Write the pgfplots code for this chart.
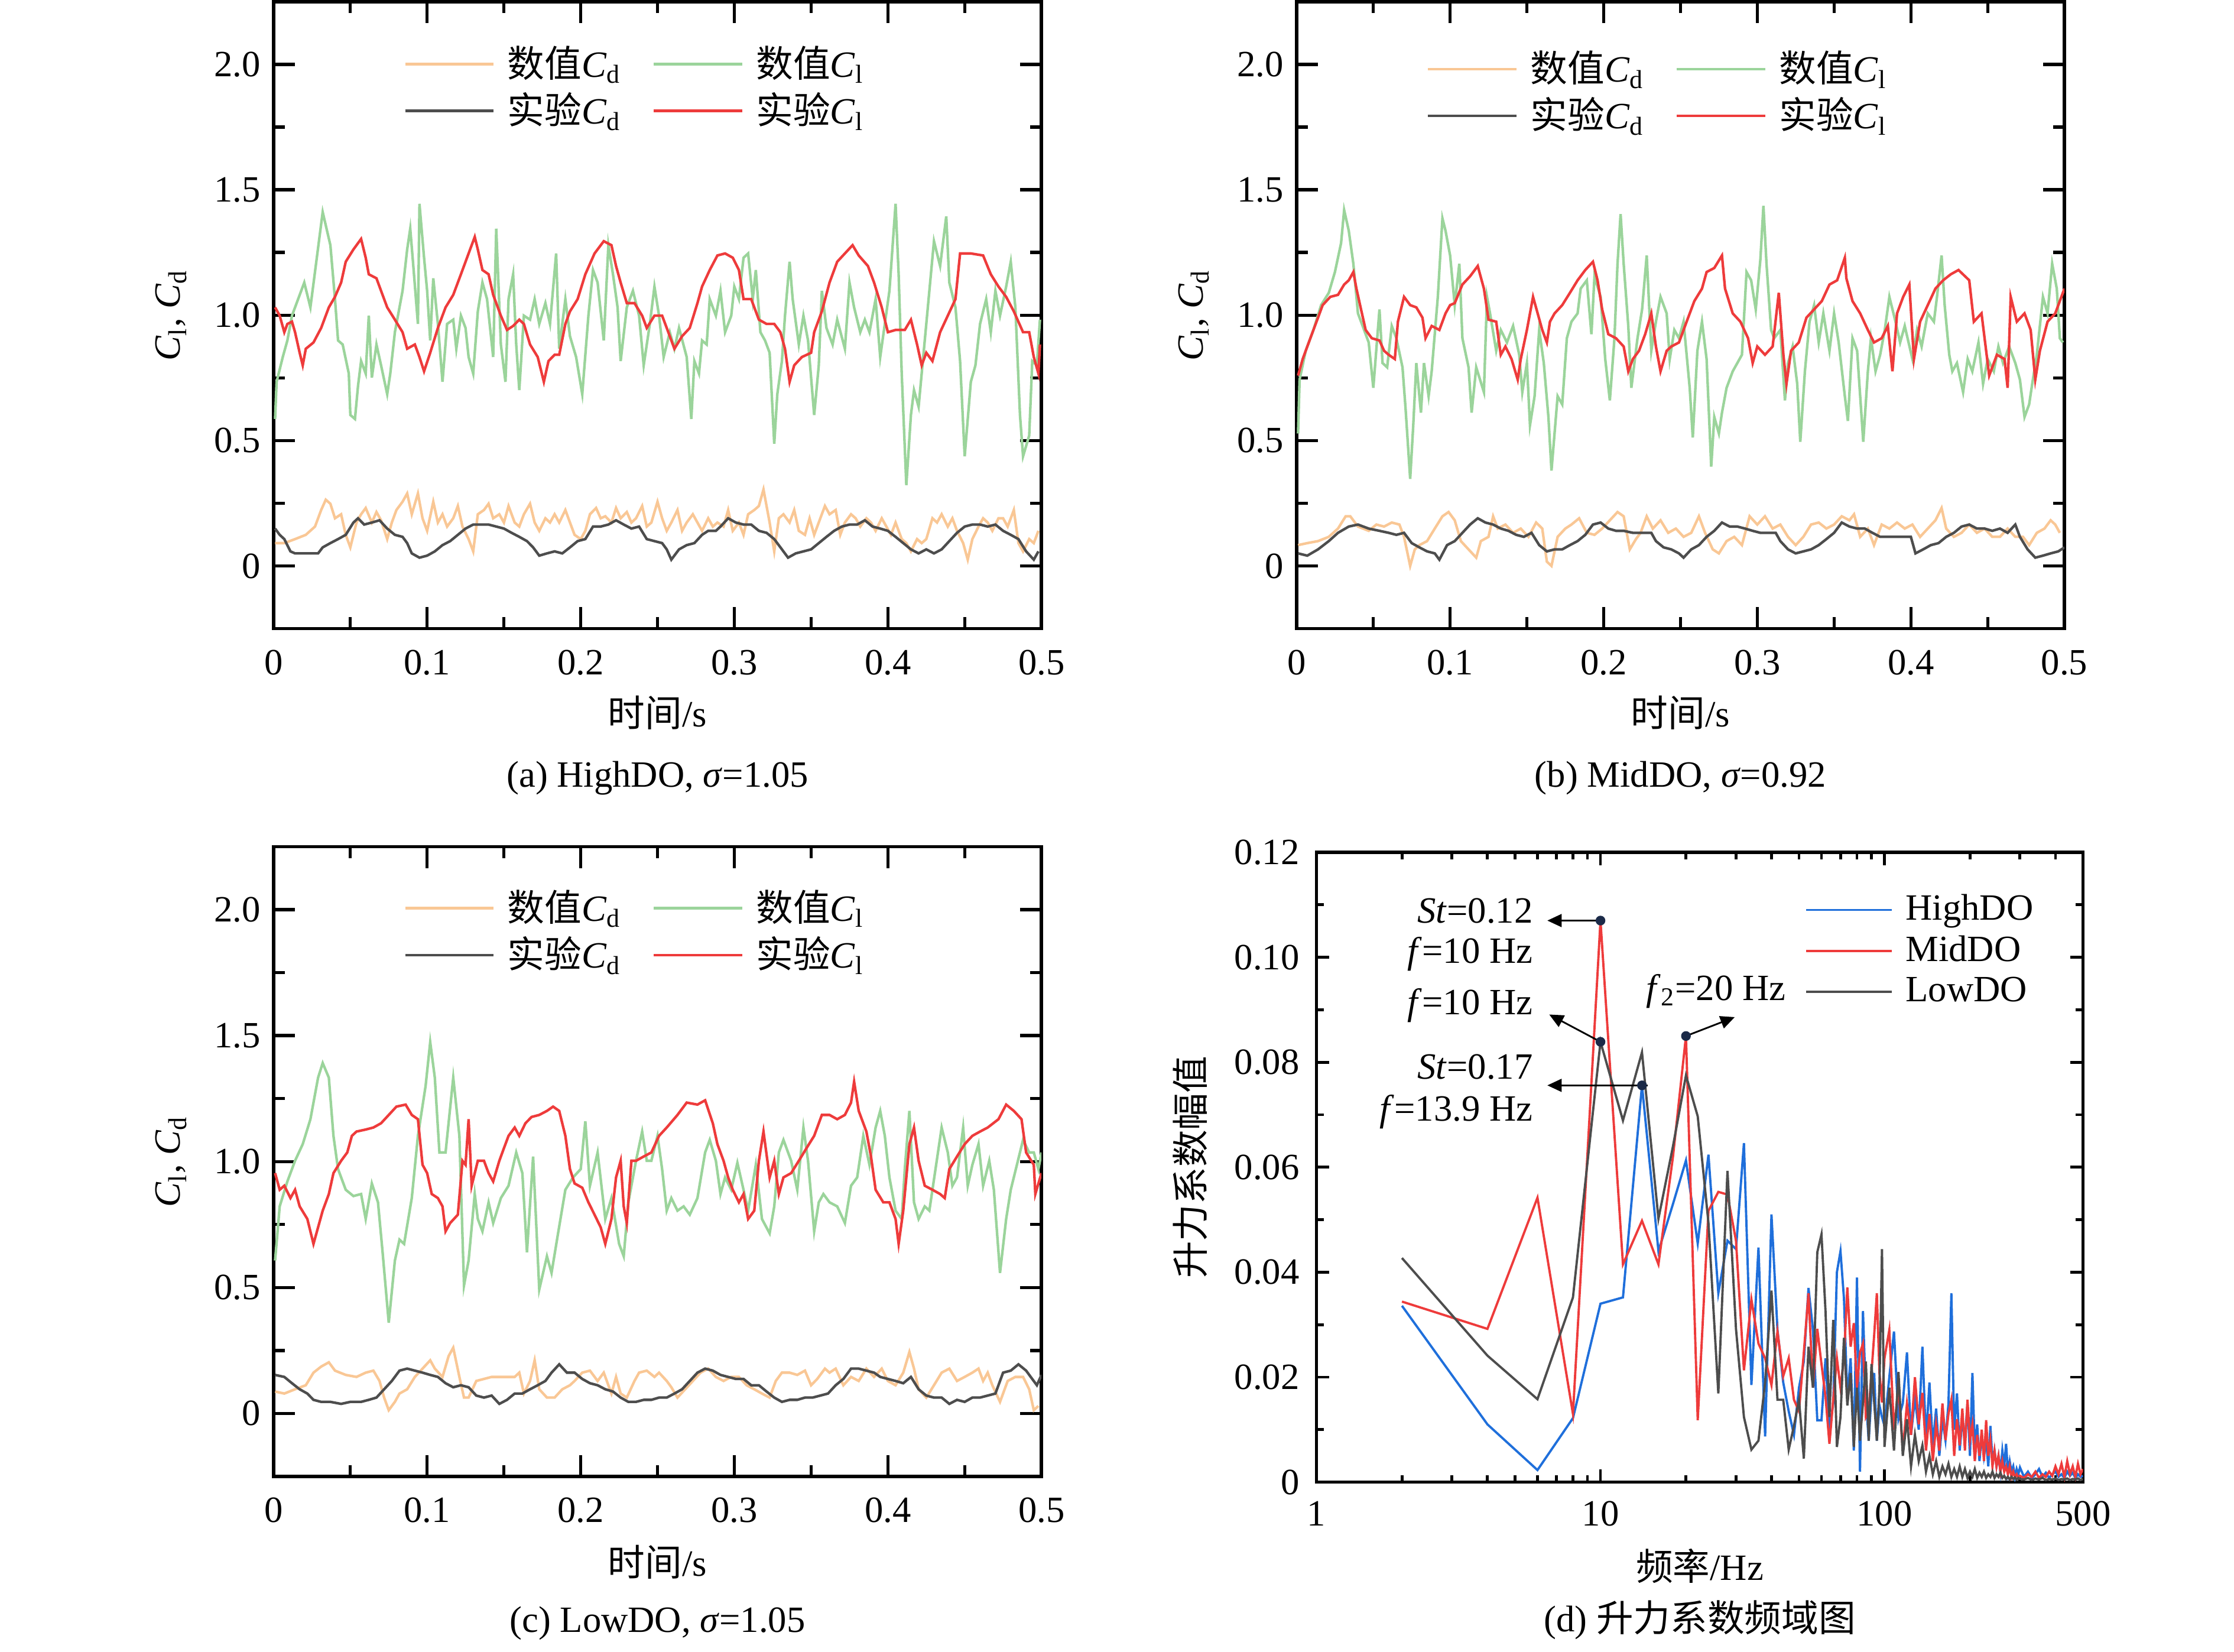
\documentclass[border=0pt]{standalone}
\usepackage{fontspec}
\setmainfont{Liberation Serif}
\newfontfamily\cjk{Noto Sans CJK SC}
\usepackage{pgfplots}
\pgfplotsset{compat=1.18}
\usetikzlibrary{arrows.meta}
\definecolor{cOr}{HTML}{F9C795}
\definecolor{cGr}{HTML}{9BD49B}
\definecolor{cGy}{HTML}{4D4D4D}
\definecolor{cRd}{HTML}{EE3B3B}
\definecolor{cBl}{HTML}{1F6FDB}
\definecolor{cDot}{HTML}{1B2A48}
\pgfplotsset{
  tsax/.style={
    scale only axis, width=269.5pt, height=220pt,
    xmin=0, xmax=0.5, ymin=-0.25, ymax=2.25,
    xtick={0,0.1,0.2,0.3,0.4,0.5}, xticklabels={0,0.1,0.2,0.3,0.4,0.5},
    minor xtick={0.05,0.15,0.25,0.35,0.45},
    ytick={0,0.5,1,1.5,2}, yticklabels={0,0.5,1.0,1.5,2.0},
    minor ytick={0.25,0.75,1.25,1.75},
    major tick length=7.5pt, minor tick length=4pt,
    tick style={line width=1.1pt, black},
    axis line style={line width=1.2pt},
    /pgf/number format/assume math mode=true,
    xticklabel style={yshift=-3pt},
    xlabel={{\cjk 时间}/s},
    ylabel={\textit{C}\textsubscript{l}, \textit{C}\textsubscript{d}},
    legend columns=2,
    legend style={draw=none, fill=none, nodes={inner ysep=1pt}, row sep=1.5pt,
      /tikz/every even column/.append style={column sep=9pt}},
    legend cell align=left,
    legend image code/.code={\draw[##1] (0pt,0pt) -- (31pt,0pt); \path (33.5pt,0pt);},
  },
  cd1/.style={cOr, line width=0.9pt},
  cl1/.style={cGr, line width=0.9pt},
  cd2/.style={cGy, line width=0.9pt},
  cl2/.style={cRd, line width=0.9pt},
}
\begin{document}
\fontsize{13}{15.6}\selectfont
\begin{tikzpicture}
\useasboundingbox (0pt,0pt) rectangle (784pt,579.6pt);
%% ---------------- (a)
\begin{axis}[tsax, at={(96pt,359pt)}, anchor=south west,
  title={(a) HighDO, \textit{σ}=1.05},
  title style={at={(axis description cs:0.5,-0.234)}, anchor=center, yshift=-7pt},
  xlabel style={at={(axis description cs:0.5,-0.134)}, anchor=center},
  ylabel style={at={(axis description cs:-0.1336,0.5)}, anchor=center},
  legend style={at={(0.473,0.863)}, anchor=center}]
\addplot[cd1] coordinates {(0.001,0.091)(0.007,0.091)(0.014,0.107)(0.021,0.124)(0.027,0.157)(0.031,0.223)(0.034,0.264)(0.037,0.248)(0.040,0.190)(0.044,0.206)(0.047,0.124)(0.050,0.074)(0.054,0.173)(0.057,0.206)(0.060,0.231)(0.064,0.173)(0.067,0.215)(0.070,0.182)(0.074,0.107)(0.077,0.173)(0.080,0.223)(0.084,0.256)(0.087,0.289)(0.090,0.206)(0.094,0.289)(0.097,0.190)(0.100,0.140)(0.104,0.256)(0.107,0.173)(0.110,0.206)(0.113,0.157)(0.117,0.190)(0.120,0.239)(0.123,0.157)(0.127,0.107)(0.130,0.058)(0.133,0.206)(0.137,0.223)(0.140,0.248)(0.143,0.190)(0.147,0.206)(0.150,0.173)(0.153,0.239)(0.157,0.173)(0.160,0.157)(0.163,0.206)(0.167,0.248)(0.170,0.173)(0.173,0.140)(0.177,0.190)(0.180,0.173)(0.183,0.206)(0.186,0.173)(0.190,0.223)(0.193,0.173)(0.196,0.124)(0.200,0.107)(0.203,0.140)(0.206,0.206)(0.210,0.231)(0.213,0.190)(0.216,0.198)(0.220,0.173)(0.223,0.231)(0.226,0.190)(0.230,0.215)(0.233,0.173)(0.236,0.190)(0.240,0.239)(0.243,0.157)(0.246,0.173)(0.250,0.256)(0.253,0.190)(0.256,0.140)(0.259,0.173)(0.263,0.223)(0.266,0.140)(0.269,0.173)(0.273,0.206)(0.276,0.173)(0.279,0.140)(0.283,0.190)(0.286,0.157)(0.289,0.173)(0.293,0.157)(0.296,0.223)(0.299,0.140)(0.303,0.173)(0.306,0.124)(0.309,0.206)(0.313,0.223)(0.316,0.239)(0.319,0.305)(0.323,0.173)(0.326,0.058)(0.329,0.190)(0.332,0.206)(0.336,0.173)(0.339,0.223)(0.342,0.140)(0.346,0.124)(0.349,0.190)(0.352,0.124)(0.356,0.190)(0.359,0.239)(0.362,0.206)(0.366,0.223)(0.369,0.124)(0.372,0.173)(0.376,0.206)(0.379,0.190)(0.382,0.157)(0.386,0.190)(0.389,0.173)(0.392,0.140)(0.396,0.190)(0.399,0.157)(0.402,0.124)(0.405,0.173)(0.409,0.107)(0.412,0.091)(0.415,0.058)(0.419,0.107)(0.422,0.091)(0.425,0.107)(0.429,0.190)(0.432,0.173)(0.435,0.206)(0.439,0.157)(0.442,0.190)(0.445,0.140)(0.449,0.091)(0.452,0.025)(0.455,0.107)(0.459,0.157)(0.462,0.190)(0.465,0.173)(0.468,0.140)(0.472,0.190)(0.475,0.190)(0.478,0.157)(0.482,0.223)(0.485,0.091)(0.488,0.058)(0.492,0.107)(0.495,0.091)(0.498,0.140)};
\addlegendentry{{\cjk 数值}\textit{C}\textsubscript{d}}
\addplot[cl1] coordinates {(0.001,0.586)(0.002,0.734)(0.006,0.833)(0.009,0.899)(0.012,0.998)(0.016,1.064)(0.020,1.130)(0.024,1.031)(0.032,1.411)(0.037,1.279)(0.040,1.064)(0.042,0.899)(0.045,0.883)(0.049,0.767)(0.050,0.602)(0.053,0.586)(0.055,0.718)(0.057,0.817)(0.060,0.767)(0.062,0.998)(0.064,0.751)(0.067,0.883)(0.070,0.800)(0.074,0.685)(0.076,0.767)(0.079,0.932)(0.081,0.998)(0.084,1.097)(0.087,1.262)(0.089,1.345)(0.091,1.196)(0.094,0.965)(0.095,1.444)(0.098,1.229)(0.100,1.097)(0.102,0.899)(0.104,1.147)(0.107,0.965)(0.110,0.734)(0.113,0.965)(0.117,0.982)(0.119,0.866)(0.122,0.998)(0.125,0.949)(0.127,0.833)(0.130,0.767)(0.133,1.015)(0.136,1.130)(0.139,1.064)(0.143,0.833)(0.145,1.345)(0.148,0.883)(0.151,0.734)(0.153,1.064)(0.156,1.163)(0.158,0.883)(0.160,0.701)(0.163,0.998)(0.167,0.982)(0.170,1.064)(0.173,0.965)(0.177,1.048)(0.180,0.965)(0.184,1.246)(0.186,0.866)(0.190,1.064)(0.193,0.916)(0.197,0.833)(0.201,0.685)(0.205,0.998)(0.208,1.180)(0.211,1.130)(0.215,0.899)(0.218,1.279)(0.221,1.163)(0.224,1.031)(0.226,0.817)(0.230,1.031)(0.234,1.097)(0.238,0.998)(0.241,0.800)(0.245,0.965)(0.248,1.114)(0.251,0.998)(0.254,0.833)(0.258,0.932)(0.261,0.866)(0.264,0.949)(0.269,0.833)(0.272,0.586)(0.274,0.817)(0.277,0.767)(0.279,0.899)(0.282,0.883)(0.284,1.064)(0.288,0.998)(0.291,1.097)(0.294,0.932)(0.298,0.998)(0.300,1.114)(0.303,1.064)(0.306,1.229)(0.309,1.246)(0.312,1.064)(0.314,1.180)(0.317,0.932)(0.320,0.899)(0.323,0.850)(0.326,0.487)(0.328,0.685)(0.331,0.817)(0.333,0.998)(0.336,1.213)(0.338,1.064)(0.342,0.883)(0.345,0.998)(0.348,0.899)(0.352,0.602)(0.355,0.800)(0.357,1.097)(0.360,0.949)(0.364,0.883)(0.367,0.982)(0.372,0.866)(0.375,1.130)(0.378,1.031)(0.382,0.932)(0.385,0.982)(0.388,0.932)(0.392,1.064)(0.395,0.833)(0.398,0.965)(0.401,1.097)(0.405,1.444)(0.407,1.163)(0.409,0.767)(0.412,0.322)(0.415,0.602)(0.417,0.701)(0.420,0.635)(0.424,0.899)(0.427,1.097)(0.430,1.295)(0.434,1.196)(0.438,1.394)(0.440,1.130)(0.444,1.031)(0.447,0.817)(0.450,0.437)(0.454,0.734)(0.457,0.800)(0.460,0.965)(0.464,1.064)(0.467,0.932)(0.470,1.097)(0.473,0.998)(0.477,1.114)(0.480,1.213)(0.483,1.031)(0.486,0.602)(0.488,0.437)(0.492,0.520)(0.494,0.817)(0.497,0.800)(0.499,0.982)};
\addlegendentry{{\cjk 数值}\textit{C}\textsubscript{l}}
\addplot[cd2] coordinates {(0.001,0.149)(0.004,0.124)(0.007,0.107)(0.011,0.058)(0.014,0.050)(0.019,0.050)(0.024,0.050)(0.029,0.050)(0.032,0.074)(0.037,0.091)(0.042,0.107)(0.047,0.124)(0.052,0.173)(0.055,0.190)(0.059,0.165)(0.064,0.173)(0.069,0.182)(0.074,0.149)(0.079,0.124)(0.084,0.116)(0.087,0.091)(0.090,0.050)(0.095,0.033)(0.100,0.041)(0.105,0.058)(0.110,0.083)(0.115,0.099)(0.120,0.124)(0.125,0.149)(0.130,0.165)(0.135,0.165)(0.140,0.165)(0.145,0.157)(0.150,0.149)(0.155,0.132)(0.160,0.116)(0.165,0.099)(0.169,0.074)(0.173,0.041)(0.178,0.050)(0.183,0.058)(0.188,0.050)(0.193,0.074)(0.198,0.099)(0.203,0.107)(0.208,0.157)(0.213,0.157)(0.218,0.165)(0.223,0.182)(0.228,0.165)(0.233,0.149)(0.238,0.157)(0.243,0.107)(0.248,0.099)(0.253,0.091)(0.256,0.066)(0.259,0.025)(0.264,0.066)(0.269,0.083)(0.274,0.091)(0.279,0.124)(0.283,0.140)(0.288,0.140)(0.291,0.157)(0.296,0.190)(0.301,0.173)(0.306,0.165)(0.311,0.165)(0.316,0.140)(0.321,0.132)(0.326,0.107)(0.331,0.066)(0.335,0.033)(0.340,0.050)(0.345,0.058)(0.350,0.066)(0.355,0.091)(0.360,0.116)(0.365,0.140)(0.370,0.157)(0.375,0.165)(0.380,0.165)(0.385,0.182)(0.390,0.157)(0.395,0.149)(0.400,0.140)(0.405,0.116)(0.410,0.091)(0.415,0.066)(0.420,0.050)(0.425,0.066)(0.430,0.050)(0.435,0.066)(0.440,0.099)(0.445,0.132)(0.450,0.157)(0.455,0.165)(0.460,0.165)(0.465,0.157)(0.470,0.165)(0.475,0.140)(0.480,0.124)(0.485,0.107)(0.490,0.058)(0.495,0.025)(0.498,0.058)};
\addlegendentry{{\cjk 实验}\textit{C}\textsubscript{d}}
\addplot[cl2] coordinates {(0.001,1.031)(0.004,0.998)(0.007,0.932)(0.009,0.965)(0.012,0.974)(0.014,0.932)(0.017,0.850)(0.019,0.800)(0.021,0.866)(0.026,0.891)(0.031,0.949)(0.036,1.031)(0.040,1.073)(0.044,1.130)(0.047,1.213)(0.052,1.262)(0.057,1.304)(0.060,1.229)(0.062,1.163)(0.067,1.147)(0.070,1.097)(0.074,1.031)(0.079,0.982)(0.084,0.932)(0.087,0.866)(0.092,0.883)(0.095,0.833)(0.098,0.776)(0.102,0.850)(0.107,0.949)(0.112,1.031)(0.117,1.081)(0.122,1.163)(0.127,1.246)(0.131,1.312)(0.133,1.262)(0.136,1.180)(0.140,1.163)(0.143,1.081)(0.148,0.998)(0.152,0.941)(0.156,0.957)(0.160,0.982)(0.163,0.965)(0.167,0.883)(0.172,0.833)(0.176,0.734)(0.179,0.817)(0.183,0.842)(0.186,0.842)(0.190,0.965)(0.193,1.015)(0.198,1.064)(0.203,1.163)(0.209,1.246)(0.215,1.295)(0.220,1.279)(0.223,1.196)(0.226,1.130)(0.230,1.048)(0.235,1.048)(0.240,0.998)(0.243,0.949)(0.248,0.998)(0.253,0.998)(0.256,0.949)(0.261,0.866)(0.266,0.916)(0.271,0.949)(0.276,1.048)(0.279,1.114)(0.284,1.180)(0.289,1.238)(0.294,1.246)(0.299,1.229)(0.303,1.180)(0.306,1.064)(0.311,1.064)(0.313,1.031)(0.316,0.982)(0.321,0.965)(0.326,0.965)(0.330,0.932)(0.333,0.866)(0.336,0.734)(0.339,0.800)(0.344,0.833)(0.350,0.850)(0.352,0.932)(0.357,1.015)(0.362,1.130)(0.367,1.213)(0.372,1.246)(0.377,1.279)(0.381,1.238)(0.387,1.196)(0.391,1.130)(0.396,1.031)(0.400,0.932)(0.405,0.941)(0.411,0.941)(0.415,0.982)(0.419,0.883)(0.422,0.800)(0.425,0.850)(0.429,0.817)(0.434,0.932)(0.439,0.998)(0.444,1.064)(0.447,1.246)(0.454,1.246)(0.462,1.238)(0.467,1.163)(0.472,1.114)(0.477,1.073)(0.482,1.015)(0.488,0.932)(0.492,0.932)(0.495,0.833)(0.498,0.767)(0.499,0.883)};
\addlegendentry{{\cjk 实验}\textit{C}\textsubscript{l}}
\end{axis}
%% ---------------- (b)
\begin{axis}[tsax, at={(455pt,359pt)}, anchor=south west,
  title={(b) MidDO, \textit{σ}=0.92},
  title style={at={(axis description cs:0.5,-0.234)}, anchor=center, yshift=-7pt},
  xlabel style={at={(axis description cs:0.5,-0.134)}, anchor=center},
  ylabel style={at={(axis description cs:-0.1336,0.5)}, anchor=center},
  legend style={at={(0.473,0.855)}, anchor=center}]
\addplot[cd1] coordinates {(0.001,0.083)(0.007,0.091)(0.014,0.099)(0.021,0.116)(0.027,0.149)(0.032,0.198)(0.035,0.198)(0.040,0.157)(0.047,0.140)(0.052,0.165)(0.057,0.157)(0.062,0.173)(0.067,0.165)(0.070,0.116)(0.074,0.000)(0.077,0.066)(0.080,0.083)(0.085,0.099)(0.090,0.149)(0.095,0.198)(0.099,0.215)(0.103,0.182)(0.107,0.099)(0.112,0.066)(0.117,0.033)(0.120,0.099)(0.125,0.116)(0.128,0.198)(0.131,0.149)(0.136,0.165)(0.141,0.132)(0.146,0.149)(0.151,0.116)(0.156,0.173)(0.160,0.149)(0.163,0.017)(0.166,0.000)(0.170,0.116)(0.175,0.149)(0.179,0.165)(0.184,0.190)(0.189,0.132)(0.194,0.124)(0.199,0.149)(0.204,0.182)(0.209,0.215)(0.213,0.198)(0.217,0.066)(0.221,0.107)(0.224,0.132)(0.228,0.198)(0.232,0.149)(0.237,0.182)(0.242,0.132)(0.247,0.149)(0.252,0.116)(0.257,0.132)(0.262,0.198)(0.266,0.132)(0.271,0.066)(0.275,0.050)(0.280,0.099)(0.285,0.116)(0.290,0.083)(0.295,0.198)(0.300,0.165)(0.305,0.198)(0.310,0.149)(0.315,0.165)(0.320,0.116)(0.325,0.083)(0.330,0.116)(0.335,0.165)(0.340,0.173)(0.345,0.149)(0.350,0.165)(0.355,0.198)(0.360,0.182)(0.363,0.206)(0.367,0.116)(0.372,0.149)(0.376,0.083)(0.381,0.165)(0.386,0.149)(0.391,0.173)(0.396,0.149)(0.401,0.165)(0.406,0.116)(0.411,0.149)(0.416,0.182)(0.420,0.231)(0.423,0.149)(0.428,0.116)(0.433,0.132)(0.438,0.165)(0.443,0.132)(0.448,0.149)(0.453,0.116)(0.458,0.116)(0.463,0.149)(0.468,0.116)(0.473,0.116)(0.477,0.083)(0.482,0.132)(0.487,0.149)(0.491,0.182)(0.494,0.165)(0.497,0.132)};
\addlegendentry{{\cjk 数值}\textit{C}\textsubscript{d}}
\addplot[cl1] coordinates {(0.001,0.528)(0.002,0.743)(0.006,0.858)(0.011,0.941)(0.016,1.040)(0.021,1.089)(0.025,1.172)(0.029,1.287)(0.031,1.419)(0.034,1.337)(0.037,1.205)(0.040,1.007)(0.044,0.941)(0.047,0.891)(0.050,0.710)(0.054,1.023)(0.056,0.809)(0.059,0.792)(0.062,0.957)(0.065,0.908)(0.069,0.792)(0.071,0.627)(0.074,0.347)(0.076,0.561)(0.078,0.809)(0.081,0.611)(0.083,0.809)(0.086,0.677)(0.088,0.776)(0.092,1.073)(0.095,1.386)(0.097,1.337)(0.100,1.238)(0.103,1.040)(0.106,1.205)(0.108,0.908)(0.112,0.792)(0.114,0.611)(0.117,0.792)(0.122,0.693)(0.124,1.073)(0.126,1.007)(0.130,0.858)(0.133,0.941)(0.137,0.891)(0.141,0.957)(0.145,0.842)(0.147,0.693)(0.150,0.809)(0.152,0.561)(0.155,0.677)(0.158,0.941)(0.161,0.809)(0.164,0.594)(0.166,0.380)(0.170,0.677)(0.173,0.644)(0.176,0.908)(0.179,0.974)(0.183,1.007)(0.185,1.106)(0.189,1.139)(0.192,0.924)(0.194,1.155)(0.198,1.073)(0.201,0.825)(0.204,0.660)(0.207,0.908)(0.209,1.205)(0.211,1.403)(0.213,1.205)(0.216,0.957)(0.218,0.710)(0.222,0.908)(0.225,1.023)(0.228,1.238)(0.231,0.858)(0.234,0.974)(0.237,1.073)(0.241,1.007)(0.243,0.825)(0.246,0.941)(0.249,0.908)(0.252,0.974)(0.256,0.710)(0.258,0.512)(0.261,0.858)(0.264,0.974)(0.267,0.825)(0.270,0.396)(0.272,0.594)(0.275,0.528)(0.277,0.611)(0.280,0.710)(0.284,0.776)(0.287,0.809)(0.290,0.842)(0.293,1.172)(0.296,1.139)(0.299,1.023)(0.302,1.221)(0.304,1.436)(0.306,1.205)(0.309,0.941)(0.311,0.908)(0.315,0.941)(0.318,0.660)(0.320,0.809)(0.323,0.875)(0.326,0.726)(0.328,0.495)(0.331,0.776)(0.334,0.974)(0.337,1.040)(0.340,0.891)(0.343,1.007)(0.347,0.858)(0.350,1.007)(0.353,0.891)(0.357,0.677)(0.359,0.578)(0.362,0.908)(0.365,0.858)(0.369,0.495)(0.372,0.776)(0.374,0.908)(0.377,0.776)(0.380,0.842)(0.383,0.941)(0.386,1.073)(0.390,0.974)(0.393,0.891)(0.396,0.957)(0.401,0.825)(0.404,0.941)(0.407,0.875)(0.411,1.007)(0.415,0.974)(0.417,1.073)(0.420,1.238)(0.422,1.040)(0.425,0.842)(0.427,0.776)(0.430,0.809)(0.434,0.693)(0.437,0.825)(0.440,0.776)(0.444,0.891)(0.447,0.726)(0.450,0.825)(0.454,0.776)(0.457,0.875)(0.460,0.809)(0.464,0.875)(0.468,0.809)(0.471,0.743)(0.474,0.594)(0.477,0.644)(0.479,0.726)(0.482,0.842)(0.486,1.073)(0.489,1.007)(0.492,1.205)(0.495,1.106)(0.497,0.908)(0.499,0.891)};
\addlegendentry{{\cjk 数值}\textit{C}\textsubscript{l}}
\addplot[cd2] coordinates {(0.001,0.050)(0.007,0.041)(0.014,0.066)(0.021,0.099)(0.027,0.132)(0.034,0.157)(0.040,0.165)(0.047,0.149)(0.054,0.140)(0.060,0.132)(0.065,0.124)(0.070,0.132)(0.075,0.091)(0.080,0.074)(0.085,0.058)(0.090,0.050)(0.093,0.025)(0.098,0.083)(0.103,0.099)(0.108,0.132)(0.113,0.165)(0.118,0.190)(0.123,0.173)(0.128,0.165)(0.133,0.149)(0.138,0.140)(0.143,0.124)(0.148,0.116)(0.153,0.132)(0.158,0.083)(0.163,0.058)(0.168,0.066)(0.173,0.066)(0.178,0.083)(0.183,0.099)(0.188,0.124)(0.193,0.165)(0.198,0.173)(0.203,0.149)(0.208,0.140)(0.213,0.140)(0.219,0.132)(0.226,0.132)(0.231,0.132)(0.234,0.099)(0.239,0.074)(0.244,0.066)(0.249,0.050)(0.252,0.033)(0.257,0.066)(0.262,0.083)(0.267,0.116)(0.272,0.140)(0.277,0.173)(0.282,0.157)(0.287,0.157)(0.292,0.149)(0.297,0.140)(0.302,0.132)(0.307,0.132)(0.312,0.132)(0.315,0.099)(0.320,0.066)(0.325,0.050)(0.330,0.058)(0.335,0.066)(0.340,0.083)(0.345,0.107)(0.350,0.132)(0.355,0.173)(0.360,0.157)(0.365,0.149)(0.370,0.149)(0.375,0.132)(0.380,0.116)(0.385,0.116)(0.390,0.116)(0.395,0.116)(0.400,0.116)(0.403,0.050)(0.408,0.066)(0.413,0.083)(0.418,0.091)(0.423,0.116)(0.428,0.132)(0.433,0.157)(0.438,0.165)(0.443,0.149)(0.448,0.149)(0.453,0.140)(0.458,0.149)(0.463,0.132)(0.468,0.165)(0.471,0.116)(0.476,0.066)(0.481,0.033)(0.486,0.041)(0.491,0.050)(0.496,0.058)(0.500,0.074)};
\addlegendentry{{\cjk 实验}\textit{C}\textsubscript{d}}
\addplot[cl2] coordinates {(0.001,0.759)(0.004,0.825)(0.007,0.875)(0.011,0.941)(0.014,0.990)(0.017,1.040)(0.022,1.073)(0.027,1.081)(0.031,1.122)(0.034,1.139)(0.037,1.172)(0.039,1.106)(0.042,1.023)(0.045,0.941)(0.049,0.908)(0.054,0.899)(0.057,0.858)(0.060,0.842)(0.064,0.825)(0.066,0.974)(0.070,1.073)(0.074,1.040)(0.078,1.031)(0.082,0.990)(0.084,0.908)(0.088,0.957)(0.093,0.941)(0.097,1.007)(0.100,1.040)(0.103,1.048)(0.108,1.122)(0.113,1.155)(0.118,1.196)(0.122,1.106)(0.125,0.982)(0.130,0.974)(0.133,0.842)(0.136,0.875)(0.140,0.825)(0.144,0.743)(0.146,0.825)(0.150,0.941)(0.154,1.073)(0.157,1.007)(0.160,0.941)(0.163,0.891)(0.165,0.974)(0.168,1.007)(0.173,1.040)(0.178,1.089)(0.183,1.139)(0.188,1.180)(0.193,1.213)(0.196,1.139)(0.199,1.023)(0.203,0.924)(0.208,0.908)(0.213,0.875)(0.216,0.776)(0.219,0.825)(0.223,0.858)(0.227,0.924)(0.231,1.007)(0.234,0.875)(0.237,0.776)(0.241,0.858)(0.244,0.875)(0.249,0.891)(0.254,0.974)(0.259,1.056)(0.264,1.106)(0.267,1.172)(0.272,1.188)(0.277,1.238)(0.279,1.106)(0.284,1.007)(0.289,0.974)(0.294,0.908)(0.297,0.809)(0.300,0.875)(0.305,0.842)(0.310,0.875)(0.314,1.089)(0.317,0.842)(0.319,0.726)(0.322,0.858)(0.327,0.891)(0.332,0.990)(0.337,1.023)(0.342,1.056)(0.347,1.122)(0.352,1.139)(0.357,1.229)(0.358,1.147)(0.362,1.056)(0.367,1.007)(0.372,0.941)(0.376,0.891)(0.381,0.908)(0.385,0.957)(0.388,0.776)(0.391,1.007)(0.395,1.073)(0.399,1.122)(0.402,0.825)(0.406,0.974)(0.411,1.040)(0.416,1.106)(0.421,1.139)(0.426,1.163)(0.431,1.180)(0.438,1.139)(0.441,0.974)(0.446,1.007)(0.451,0.759)(0.456,0.842)(0.461,0.825)(0.463,0.710)(0.465,1.073)(0.469,0.974)(0.474,1.007)(0.478,0.941)(0.481,0.743)(0.484,0.858)(0.489,0.974)(0.494,1.007)(0.500,1.106)};
\addlegendentry{{\cjk 实验}\textit{C}\textsubscript{l}}
\end{axis}
%% ---------------- (c)
\begin{axis}[tsax, at={(96pt,61.5pt)}, anchor=south west, height=221pt,
  title={(c) LowDO, \textit{σ}=1.05},
  title style={at={(axis description cs:0.5,-0.229)}, anchor=center, yshift=-7pt},
  xlabel style={at={(axis description cs:0.5,-0.136)}, anchor=center},
  ylabel style={at={(axis description cs:-0.1336,0.5)}, anchor=center},
  legend style={at={(0.473,0.865)}, anchor=center}]
\addplot[cd1] coordinates {(0.001,0.087)(0.007,0.079)(0.014,0.096)(0.021,0.112)(0.026,0.162)(0.031,0.186)(0.036,0.203)(0.040,0.170)(0.047,0.153)(0.054,0.145)(0.060,0.162)(0.065,0.170)(0.069,0.129)(0.072,0.063)(0.075,0.013)(0.079,0.046)(0.082,0.079)(0.087,0.096)(0.092,0.145)(0.097,0.178)(0.102,0.211)(0.105,0.178)(0.110,0.145)(0.114,0.228)(0.117,0.261)(0.121,0.145)(0.124,0.063)(0.127,0.063)(0.132,0.129)(0.137,0.137)(0.142,0.145)(0.147,0.145)(0.152,0.145)(0.157,0.145)(0.160,0.162)(0.163,0.079)(0.167,0.129)(0.170,0.211)(0.173,0.096)(0.178,0.063)(0.183,0.063)(0.188,0.096)(0.193,0.112)(0.196,0.129)(0.201,0.162)(0.206,0.170)(0.211,0.129)(0.215,0.162)(0.220,0.079)(0.223,0.145)(0.226,0.079)(0.230,0.063)(0.235,0.129)(0.238,0.162)(0.243,0.170)(0.248,0.145)(0.251,0.162)(0.256,0.129)(0.259,0.104)(0.263,0.063)(0.268,0.096)(0.273,0.129)(0.278,0.162)(0.283,0.178)(0.288,0.145)(0.293,0.129)(0.298,0.145)(0.303,0.145)(0.308,0.112)(0.313,0.096)(0.318,0.079)(0.323,0.063)(0.327,0.129)(0.331,0.162)(0.336,0.162)(0.341,0.153)(0.346,0.170)(0.350,0.112)(0.354,0.137)(0.359,0.178)(0.362,0.162)(0.366,0.178)(0.371,0.112)(0.376,0.145)(0.381,0.129)(0.386,0.178)(0.391,0.145)(0.396,0.178)(0.400,0.129)(0.405,0.112)(0.410,0.162)(0.414,0.244)(0.417,0.178)(0.420,0.096)(0.425,0.063)(0.430,0.112)(0.435,0.162)(0.440,0.178)(0.445,0.129)(0.450,0.145)(0.455,0.162)(0.459,0.178)(0.462,0.129)(0.465,0.162)(0.468,0.112)(0.473,0.046)(0.478,0.129)(0.483,0.145)(0.488,0.145)(0.492,0.096)(0.495,0.013)(0.498,0.030)};
\addlegendentry{{\cjk 数值}\textit{C}\textsubscript{d}}
\addplot[cl1] coordinates {(0.001,0.607)(0.004,0.822)(0.009,0.921)(0.014,1.003)(0.019,1.069)(0.024,1.168)(0.029,1.333)(0.032,1.391)(0.036,1.333)(0.039,1.102)(0.042,0.970)(0.047,0.888)(0.052,0.863)(0.057,0.871)(0.060,0.772)(0.064,0.913)(0.068,0.838)(0.071,0.640)(0.075,0.360)(0.079,0.607)(0.082,0.690)(0.085,0.673)(0.090,0.855)(0.094,1.102)(0.099,1.300)(0.102,1.474)(0.105,1.333)(0.108,1.036)(0.112,1.036)(0.117,1.333)(0.121,1.102)(0.124,0.508)(0.127,0.607)(0.131,0.871)(0.133,0.772)(0.136,0.723)(0.140,0.838)(0.143,0.756)(0.148,0.855)(0.153,0.904)(0.158,1.036)(0.162,0.954)(0.165,0.640)(0.169,1.020)(0.173,0.492)(0.178,0.624)(0.181,0.558)(0.185,0.706)(0.190,0.888)(0.195,0.937)(0.200,0.970)(0.203,1.160)(0.206,0.904)(0.211,1.036)(0.216,0.772)(0.220,0.855)(0.225,0.673)(0.228,0.624)(0.231,0.838)(0.236,1.003)(0.240,1.119)(0.243,1.003)(0.246,1.003)(0.250,1.102)(0.253,0.970)(0.256,0.805)(0.259,0.855)(0.263,0.805)(0.267,0.822)(0.271,0.789)(0.276,0.855)(0.281,1.036)(0.284,1.086)(0.288,1.003)(0.291,0.871)(0.294,0.937)(0.298,0.888)(0.302,0.995)(0.306,0.888)(0.309,0.805)(0.314,0.987)(0.318,0.772)(0.323,0.715)(0.326,0.822)(0.329,1.036)(0.332,1.086)(0.337,1.003)(0.341,0.888)(0.345,1.135)(0.348,1.003)(0.352,0.723)(0.355,0.838)(0.358,0.871)(0.362,0.838)(0.367,0.822)(0.372,0.756)(0.376,0.904)(0.380,0.937)(0.384,1.102)(0.388,0.987)(0.392,1.135)(0.395,1.201)(0.398,1.102)(0.401,0.937)(0.405,0.805)(0.409,0.772)(0.411,0.970)(0.414,1.201)(0.417,0.838)(0.420,0.772)(0.424,0.822)(0.427,0.805)(0.431,0.970)(0.435,1.135)(0.439,1.036)(0.442,0.904)(0.445,0.937)(0.449,1.135)(0.452,0.904)(0.455,0.987)(0.459,1.069)(0.462,0.904)(0.466,1.003)(0.469,0.888)(0.473,0.558)(0.477,0.772)(0.480,0.888)(0.484,0.987)(0.488,1.086)(0.492,1.036)(0.495,1.036)(0.498,0.970)(0.500,1.036)};
\addlegendentry{{\cjk 数值}\textit{C}\textsubscript{l}}
\addplot[cd2] coordinates {(0.001,0.153)(0.007,0.145)(0.012,0.120)(0.017,0.096)(0.022,0.079)(0.026,0.054)(0.031,0.046)(0.037,0.046)(0.044,0.038)(0.050,0.046)(0.057,0.046)(0.062,0.054)(0.067,0.063)(0.072,0.096)(0.077,0.129)(0.082,0.170)(0.087,0.178)(0.092,0.170)(0.097,0.162)(0.102,0.153)(0.107,0.145)(0.112,0.120)(0.117,0.104)(0.122,0.112)(0.127,0.104)(0.132,0.071)(0.137,0.063)(0.142,0.071)(0.147,0.038)(0.152,0.054)(0.157,0.079)(0.162,0.079)(0.167,0.096)(0.172,0.112)(0.177,0.129)(0.181,0.162)(0.186,0.195)(0.191,0.162)(0.196,0.162)(0.201,0.137)(0.206,0.120)(0.211,0.112)(0.216,0.096)(0.221,0.087)(0.226,0.063)(0.231,0.046)(0.236,0.046)(0.241,0.054)(0.246,0.054)(0.251,0.063)(0.256,0.063)(0.261,0.079)(0.266,0.096)(0.271,0.129)(0.276,0.162)(0.281,0.178)(0.286,0.170)(0.291,0.153)(0.296,0.145)(0.301,0.137)(0.306,0.137)(0.311,0.112)(0.316,0.112)(0.321,0.087)(0.326,0.063)(0.331,0.046)(0.336,0.054)(0.341,0.054)(0.346,0.063)(0.351,0.063)(0.356,0.071)(0.361,0.079)(0.366,0.112)(0.371,0.137)(0.376,0.178)(0.381,0.178)(0.386,0.170)(0.391,0.162)(0.395,0.145)(0.400,0.137)(0.405,0.129)(0.410,0.120)(0.415,0.145)(0.420,0.096)(0.425,0.071)(0.430,0.063)(0.435,0.063)(0.440,0.038)(0.445,0.054)(0.450,0.046)(0.455,0.063)(0.460,0.063)(0.465,0.071)(0.470,0.079)(0.475,0.162)(0.480,0.170)(0.485,0.195)(0.490,0.170)(0.493,0.145)(0.497,0.112)(0.500,0.153)};
\addlegendentry{{\cjk 实验}\textit{C}\textsubscript{d}}
\addplot[cl2] coordinates {(0.001,0.954)(0.004,0.888)(0.007,0.904)(0.011,0.855)(0.014,0.888)(0.017,0.822)(0.022,0.772)(0.026,0.673)(0.029,0.739)(0.032,0.805)(0.036,0.871)(0.039,0.954)(0.044,1.003)(0.048,1.036)(0.051,1.102)(0.054,1.119)(0.060,1.127)(0.065,1.135)(0.070,1.152)(0.075,1.185)(0.080,1.218)(0.086,1.226)(0.090,1.185)(0.094,1.168)(0.097,0.987)(0.100,0.954)(0.103,0.871)(0.107,0.855)(0.110,0.822)(0.112,0.723)(0.115,0.756)(0.120,0.789)(0.123,1.003)(0.125,0.987)(0.127,1.168)(0.129,0.904)(0.133,1.003)(0.137,1.003)(0.140,0.954)(0.143,0.921)(0.147,1.003)(0.150,1.053)(0.153,1.102)(0.157,1.135)(0.160,1.102)(0.164,1.152)(0.168,1.177)(0.173,1.185)(0.178,1.201)(0.182,1.218)(0.186,1.201)(0.190,1.102)(0.193,0.970)(0.196,0.913)(0.201,0.896)(0.205,0.838)(0.209,0.789)(0.213,0.739)(0.216,0.673)(0.220,0.772)(0.223,0.937)(0.226,1.003)(0.228,0.822)(0.230,0.756)(0.233,1.003)(0.236,1.003)(0.241,1.020)(0.246,1.036)(0.251,1.102)(0.256,1.135)(0.263,1.185)(0.269,1.234)(0.276,1.226)(0.281,1.243)(0.286,1.152)(0.289,1.069)(0.293,1.003)(0.296,0.937)(0.299,0.888)(0.303,0.838)(0.306,0.871)(0.309,0.772)(0.313,0.805)(0.316,1.003)(0.319,1.119)(0.323,0.937)(0.326,1.003)(0.329,0.871)(0.332,0.937)(0.337,0.954)(0.342,1.003)(0.347,1.053)(0.352,1.102)(0.357,1.185)(0.362,1.185)(0.367,1.168)(0.372,1.185)(0.376,1.234)(0.378,1.317)(0.381,1.201)(0.386,1.119)(0.389,1.020)(0.392,0.888)(0.397,0.838)(0.401,0.838)(0.405,0.772)(0.407,0.673)(0.410,0.805)(0.414,1.069)(0.417,1.135)(0.420,1.003)(0.424,0.904)(0.429,0.888)(0.434,0.871)(0.437,0.855)(0.440,0.970)(0.445,1.020)(0.450,1.069)(0.455,1.102)(0.460,1.119)(0.465,1.135)(0.472,1.168)(0.477,1.226)(0.482,1.201)(0.487,1.168)(0.490,1.036)(0.495,0.987)(0.496,0.871)(0.500,0.954)};
\addlegendentry{{\cjk 实验}\textit{C}\textsubscript{l}}
\end{axis}
%% ---------------- (d)
\begin{axis}[at={(462pt,59.5pt)}, anchor=south west, scale only axis, width=269pt, height=221pt,
  xmode=log, log basis x=10, xmin=1, xmax=500, ymin=0, ymax=0.12,
  xtick={1,10,100,500}, xticklabels={1,10,100,500},
  minor xtick={2,3,4,5,6,7,8,9,20,30,40,50,60,70,80,90,200,300,400},
  ytick={0,0.02,0.04,0.06,0.08,0.10,0.12}, yticklabels={0,0.02,0.04,0.06,0.08,0.10,0.12},
  minor ytick={0.01,0.03,0.05,0.07,0.09,0.11},
  scaled y ticks=false,
  major tick length=4.5pt, minor tick length=2.5pt,
  tick style={line width=1pt, black}, axis line style={line width=1.1pt},
  /pgf/number format/assume math mode=true,
  xticklabel style={yshift=-2.2pt},
  yticklabel style={xshift=-1.5pt},
  xlabel={{\cjk 频率}/Hz}, xlabel style={at={(axis description cs:0.5,-0.1335)}, anchor=center},
  ylabel={\cjk 升力系数幅值}, ylabel style={at={(axis description cs:-0.165,0.5)}, anchor=center},
  title={(d) {\cjk 升力系数频域图}}, title style={at={(axis description cs:0.5,-0.219)}, anchor=center, yshift=-6pt},
  legend style={at={(0.79,0.844)}, anchor=center, draw=none, fill=none, nodes={inner ysep=1pt}, row sep=1.5pt},
  legend cell align=left,
  legend image code/.code={\draw[#1] (0pt,0pt) -- (30pt,0pt); \path (32.5pt,0pt);},
]
\addplot[cBl, line width=0.8pt] coordinates {(2,0.0336)(4,0.0110)(6,0.0023)(8,0.0122)(10,0.0340)(12,0.0352)(14,0.0756)(16,0.0440)(18,0.0530)(20,0.0613)(22,0.0455)(24,0.0624)(26,0.0360)(28,0.0460)(30,0.0444)(32,0.0646)(34,0.0185)(36,0.0447)(38,0.0087)(40,0.0510)(42,0.0290)(44,0.0190)(46,0.0135)(48,0.0090)(50,0.0180)(52,0.0230)(54,0.0370)(56,0.0290)(58,0.0118)(60,0.0118)(62,0.0236)(64,0.0100)(66,0.0150)(68,0.0400)(70,0.0440)(72,0.0350)(74,0.0160)(76,0.0236)(78,0.0060)(80,0.0390)(82,0.0020)(84,0.0326)(86,0.0160)(88,0.0079)(90,0.0169)(92,0.0208)(94,0.0079)(96,0.0146)(98,0.0124)(100,0.0107)(104,0.0200)(108,0.0287)(112,0.0120)(116,0.0150)(120,0.0247)(124,0.0090)(128,0.0160)(132,0.0100)(136,0.0258)(140,0.0080)(144,0.0190)(148,0.0070)(152,0.0140)(156,0.0050)(160,0.0120)(164,0.0080)(168,0.0150)(172,0.0360)(176,0.0100)(180,0.0169)(184,0.0060)(188,0.0120)(192,0.0080)(196,0.0150)(200,0.0050)(204,0.0208)(208,0.0060)(212,0.0110)(216,0.0040)(220,0.0090)(224,0.0050)(228,0.0080)(232,0.0030)(236,0.0107)(240,0.0040)(244,0.0060)(248,0.0030)(252,0.0050)(256,0.0020)(260,0.0060)(264,0.0030)(268,0.0073)(272,0.0020)(276,0.0040)(280,0.0020)(284,0.0030)(288,0.0010)(292,0.0025)(296,0.0015)(300,0.0028)(310,0.0010)(320,0.0020)(330,0.0008)(340,0.0015)(350,0.0025)(360,0.0010)(370,0.0018)(380,0.0008)(390,0.0015)(400,0.0020)(410,0.0010)(420,0.0015)(430,0.0008)(440,0.0020)(450,0.0012)(460,0.0018)(470,0.0008)(480,0.0015)(490,0.0010)(500,0.0012)};
\addlegendentry{HighDO}
\addplot[cRd, line width=0.8pt] coordinates {(2,0.0344)(4,0.0292)(6,0.0542)(8,0.0130)(10,0.1070)(12,0.0415)(14,0.0498)(16,0.0415)(18,0.0620)(20,0.0850)(22,0.0118)(24,0.0517)(26,0.0553)(28,0.0548)(30,0.0460)(32,0.0213)(34,0.0348)(36,0.0264)(38,0.0236)(40,0.0185)(42,0.0287)(44,0.0202)(46,0.0236)(48,0.0157)(50,0.0135)(52,0.0247)(54,0.0360)(56,0.0180)(58,0.0292)(60,0.0225)(62,0.0163)(64,0.0073)(66,0.0157)(68,0.0236)(70,0.0180)(72,0.0236)(74,0.0371)(76,0.0258)(78,0.0303)(80,0.0180)(82,0.0247)(84,0.0264)(86,0.0124)(88,0.0135)(90,0.0208)(92,0.0281)(94,0.0360)(96,0.0208)(98,0.0152)(100,0.0236)(104,0.0290)(108,0.0100)(112,0.0180)(116,0.0060)(120,0.0150)(124,0.0090)(128,0.0200)(132,0.0110)(136,0.0170)(140,0.0060)(144,0.0130)(148,0.0040)(152,0.0110)(156,0.0060)(160,0.0150)(164,0.0080)(168,0.0130)(172,0.0157)(176,0.0050)(180,0.0120)(184,0.0070)(188,0.0140)(192,0.0060)(196,0.0157)(200,0.0080)(204,0.0110)(208,0.0040)(212,0.0090)(216,0.0050)(220,0.0100)(224,0.0040)(228,0.0118)(232,0.0050)(236,0.0080)(240,0.0030)(244,0.0060)(248,0.0030)(252,0.0050)(256,0.0020)(260,0.0040)(264,0.0020)(268,0.0030)(272,0.0015)(276,0.0030)(280,0.0010)(284,0.0020)(288,0.0010)(292,0.0015)(296,0.0008)(300,0.0012)(310,0.0008)(320,0.0015)(330,0.0010)(340,0.0020)(350,0.0008)(360,0.0015)(370,0.0010)(380,0.0020)(390,0.0012)(400,0.0030)(410,0.0015)(420,0.0035)(430,0.0010)(440,0.0040)(450,0.0015)(460,0.0030)(470,0.0010)(480,0.0035)(490,0.0015)(500,0.0025)};
\addlegendentry{MidDO}
\addplot[cGy, line width=0.8pt] coordinates {(2,0.0427)(4,0.0241)(6,0.0158)(8,0.0352)(10,0.0839)(12,0.0689)(14,0.0819)(16,0.0502)(18,0.0640)(20,0.0775)(22,0.0697)(24,0.0494)(26,0.0169)(28,0.0593)(30,0.0292)(32,0.0124)(34,0.0062)(36,0.0079)(38,0.0190)(40,0.0365)(42,0.0157)(44,0.0157)(46,0.0062)(48,0.0107)(50,0.0157)(52,0.0045)(54,0.0258)(56,0.0180)(58,0.0438)(60,0.0472)(62,0.0326)(64,0.0124)(66,0.0309)(68,0.0067)(70,0.0124)(72,0.0275)(74,0.0146)(76,0.0208)(78,0.0067)(80,0.0180)(82,0.0079)(84,0.0152)(86,0.0230)(88,0.0079)(90,0.0225)(92,0.0152)(94,0.0079)(96,0.0180)(98,0.0444)(100,0.0067)(104,0.0180)(108,0.0060)(112,0.0210)(116,0.0050)(120,0.0120)(124,0.0030)(128,0.0090)(132,0.0040)(136,0.0070)(140,0.0020)(144,0.0050)(148,0.0015)(152,0.0040)(156,0.0010)(160,0.0030)(164,0.0015)(168,0.0035)(172,0.0010)(176,0.0025)(180,0.0010)(184,0.0030)(188,0.0010)(192,0.0025)(196,0.0008)(200,0.0020)(204,0.0010)(208,0.0025)(212,0.0008)(216,0.0018)(220,0.0010)(224,0.0020)(228,0.0008)(232,0.0015)(236,0.0010)(240,0.0020)(244,0.0008)(248,0.0015)(252,0.0010)(256,0.0018)(260,0.0008)(264,0.0012)(268,0.0006)(272,0.0010)(276,0.0005)(280,0.0010)(284,0.0006)(288,0.0009)(292,0.0005)(296,0.0008)(300,0.0006)(310,0.0005)(320,0.0008)(330,0.0004)(340,0.0007)(350,0.0005)(360,0.0008)(370,0.0004)(380,0.0006)(390,0.0005)(400,0.0007)(410,0.0004)(420,0.0006)(430,0.0005)(440,0.0007)(450,0.0004)(460,0.0006)(470,0.0005)(480,0.0007)(490,0.0004)(500,0.0006)};
\addlegendentry{LowDO}
\draw[-{Triangle[length=5pt,width=4.5pt]}, line width=0.6pt] (axis cs:10,0.107) -- (axis cs:6.5,0.107);
\draw[-{Triangle[length=5pt,width=4.5pt]}, line width=0.6pt] (axis cs:10,0.0839) -- (axis cs:6.6,0.0891);
\draw[-{Triangle[length=5pt,width=4.5pt]}, line width=0.6pt] (axis cs:14.7,0.0756) -- (axis cs:6.5,0.0756);
\draw[-{Triangle[length=5pt,width=4.5pt]}, line width=0.6pt] (axis cs:20,0.085) -- (axis cs:29.7,0.0886);
\addplot[only marks, mark=*, mark size=1.5pt, cDot, forget plot] coordinates {(10,0.107)(10,0.0839)(14,0.0756)(20,0.085)};
\node[anchor=east, inner sep=0pt] at (axis cs:5.8,0.1089) {\textit{St}=0.12};
\node[anchor=east, inner sep=0pt] at (axis cs:5.8,0.1006) {\textit{f}=10 Hz};
\node[anchor=east, inner sep=0pt] at (axis cs:5.8,0.0908) {\textit{f}=10 Hz};
\node[anchor=east, inner sep=0pt] at (axis cs:5.8,0.0791) {\textit{St}=0.17};
\node[anchor=east, inner sep=0pt] at (axis cs:5.8,0.0706) {\textit{f}=13.9 Hz};
\node[inner sep=0pt] at (axis cs:25.5,0.0935) {\textit{f}\textsubscript{2}=20 Hz};
\end{axis}
\end{tikzpicture}
\end{document}
